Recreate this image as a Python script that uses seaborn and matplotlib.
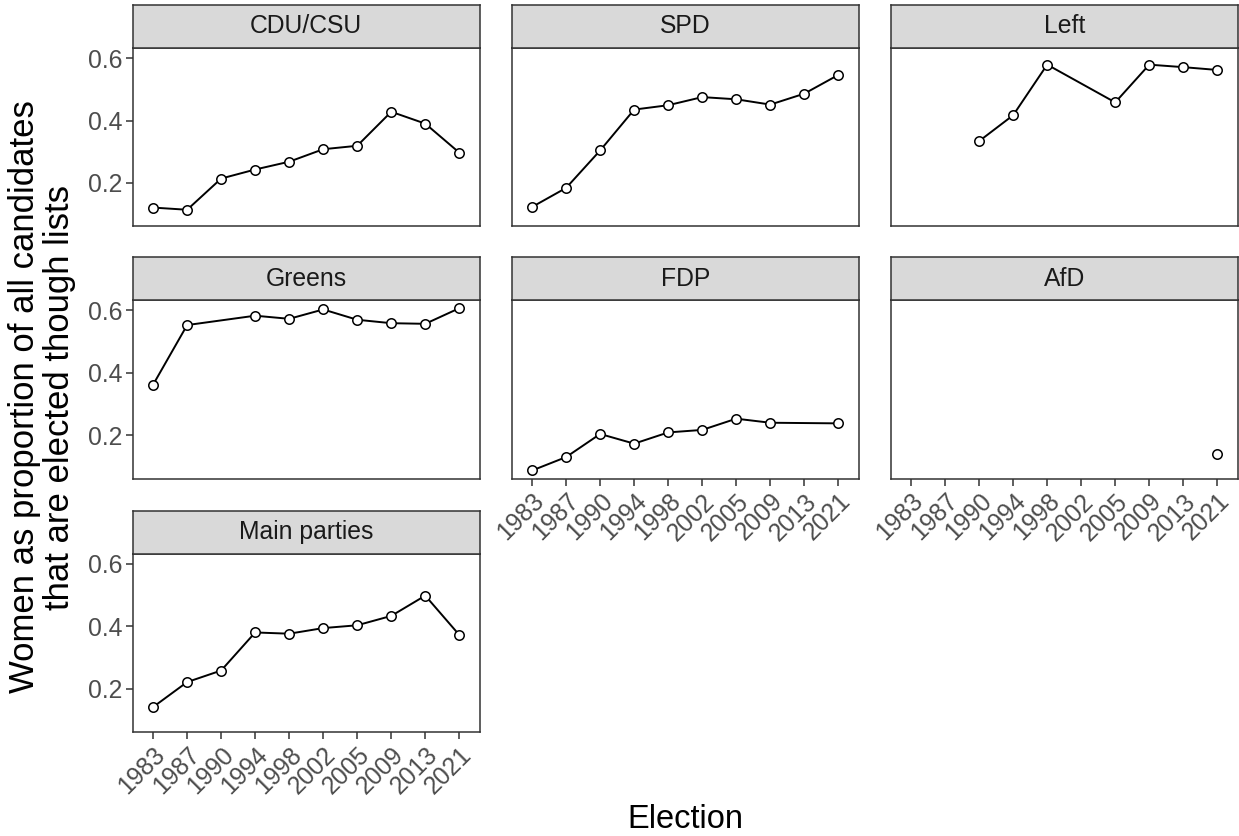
import numpy as np
import pandas as pd
import matplotlib
matplotlib.use("Agg")
import matplotlib.pyplot as plt
import seaborn as sns

elections = ["1983", "1987", "1990", "1994", "1998", "2002", "2005", "2009", "2013", "2021"]
parties = ["CDU/CSU", "SPD", "Left", "Greens", "FDP", "AfD", "Main parties"]

cdu = [0.121, 0.114, 0.214, 0.243, 0.268, 0.308, 0.319, 0.428, 0.390, 0.297]
spd = [0.123, 0.184, 0.304, 0.435, 0.449, 0.475, 0.468, 0.451, 0.486, 0.546]
left = [None, None, 0.334, 0.417, 0.579, None, 0.458, 0.579, 0.571, 0.562]
greens = [0.362, 0.553, None, 0.583, 0.573, 0.603, 0.570, 0.559, 0.557, 0.607]
fdp = [0.087, 0.130, 0.204, 0.173, 0.209, 0.217, 0.253, 0.240, None, 0.238]
afd = [None, None, None, None, None, None, None, None, None, 0.139]
main = [0.141, 0.221, 0.258, 0.380, 0.376, 0.394, 0.403, 0.433, 0.498, 0.372]

series = [cdu, spd, left, greens, fdp, afd, main]
rows = []
for p, vals in zip(parties, series):
    for i, (e, v) in enumerate(zip(elections, vals)):
        if v is not None:
            rows.append({"party": p, "election": e, "pos": i, "share": v})
df = pd.DataFrame(rows)

sns.set_style("white")
plt.rcParams["font.family"] = ["Liberation Sans", "DejaVu Sans"]

W, H = 1239, 836
fig = plt.figure(figsize=(W / 100, H / 100), dpi=100)

col_left = [132.7, 511.7, 890.7]
pw = 347.0
strip_top = [5.0, 257.3, 510.7]
sh = 42.8
ph = 178.5

ymin, ymax = df["share"].min(), df["share"].max()
yr = ymax - ymin
ylim = (ymin - 0.05 * yr, ymax + 0.05 * yr)
xlim = (-0.6, len(elections) - 0.4)

border = "#333333"
bottom_panels = {"FDP", "AfD", "Main parties"}

for k, p in enumerate(parties):
    r, c = divmod(k, 3)
    x0 = col_left[c]
    st = strip_top[r]
    pt = st + sh
    ax = fig.add_axes([x0 / W, 1 - (pt + ph) / H, pw / W, ph / H])
    sub = df[df["party"] == p]
    sns.lineplot(data=sub, x="pos", y="share", ax=ax, color="black", lw=1.4,
                 marker="o", markersize=6.8, markerfacecolor="white",
                 markeredgecolor="black", markeredgewidth=1.1, errorbar=None)
    ax.set_xlim(*xlim)
    ax.set_ylim(*ylim)
    ax.set_xlabel("")
    ax.set_ylabel("")
    for s in ax.spines.values():
        s.set_color(border)
        s.set_linewidth(1.1)
        s.set_visible(True)
    ax.set_yticks([0.2, 0.4, 0.6])
    ax.set_xticks(range(len(elections)))
    ax.tick_params(axis="both", direction="out", length=5, width=1.1,
                   color=border, labelcolor="#4D4D4D", labelsize=17.8, pad=2.5)
    if c == 0:
        ax.set_yticklabels(["0.2", "0.4", "0.6"])
        ax.tick_params(axis="y", left=True)
    else:
        ax.tick_params(axis="y", left=False, labelleft=False)
    if p in bottom_panels:
        ax.set_xticklabels(elections, rotation=45, ha="right", va="top",
                           rotation_mode="anchor")
        ax.tick_params(axis="x", bottom=True)
    else:
        ax.tick_params(axis="x", bottom=False, labelbottom=False)
    # strip
    sax = fig.add_axes([x0 / W, 1 - pt / H, pw / W, sh / H])
    sax.set_facecolor("#D9D9D9")
    sax.set_xticks([])
    sax.set_yticks([])
    for s in sax.spines.values():
        s.set_color(border)
        s.set_linewidth(1.1)
    sax.text(0.5, 0.5, p, ha="center", va="center", fontsize=17.8,
             color="#1A1A1A", transform=sax.transAxes)

fig.text(42 / W, 1 - 397 / H,
         "Women as proportion of all candidates\nthat are elected though lists",
         rotation=90, ha="center", va="center", fontsize=25, color="black",
         linespacing=1.1)
fig.text(685 / W, 1 - 819 / H, "Election", ha="center", va="center",
         fontsize=23.5, color="black")

fig.savefig("out.png", dpi=100, facecolor="white")
